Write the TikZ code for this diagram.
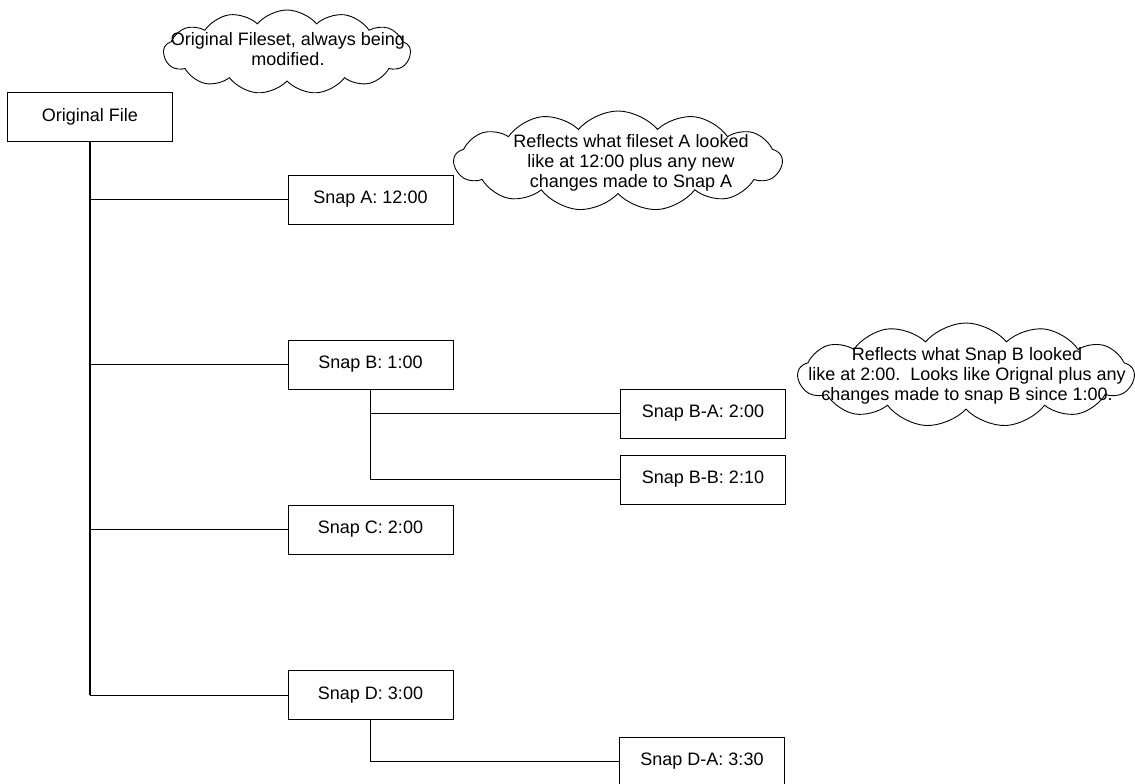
\documentclass[tikz,border=0pt]{standalone}
\usepackage{fontspec}
\setmainfont{Liberation Sans}
\usetikzlibrary{shapes.symbols}
\begin{document}
\begin{tikzpicture}[x=1pt,y=-1pt,
  lbl/.style={font=\fontsize{18}{20}\selectfont, align=center, inner sep=0pt},
  snapbox/.style={draw, line width=1pt, minimum width=165pt, minimum height=49pt,
    inner sep=0pt, font=\fontsize{18}{20}\selectfont},
  trunk/.style={line width=1.6pt},
  branch/.style={line width=0.9pt},
  puff/.style={draw, cloud, cloud puffs=13, cloud puff arc=100, line width=0.9pt,
    inner sep=0pt}]
\useasboundingbox (0,0) rectangle (1135,784);

% file boxes
\node[snapbox] (orig)   at (90,116.5)  {Original File};
\node[snapbox] (snapA)  at (370.5,199.5) {Snap A: 12:00};
\node[snapbox] (snapB)  at (370.5,364.5) {Snap B: 1:00};
\node[snapbox] (snapC)  at (370.5,529.5) {Snap C: 2:00};
\node[snapbox] (snapD)  at (370.5,695)   {Snap D: 3:00};
\node[snapbox] (snapBA) at (703,413.5)   {Snap B-A: 2:00};
\node[snapbox] (snapBB) at (703,479.5)   {Snap B-B: 2:10};
\node[snapbox] (snapDA) at (702,761.5)   {Snap D-A: 3:30};

% tree connectors
\draw[trunk] (orig.south) -- (orig.south |- snapD.west);
\draw[branch] (orig.south |- snapA.west) -- (snapA.west);
\draw[branch] (orig.south |- snapB.west) -- (snapB.west);
\draw[branch] (orig.south |- snapC.west) -- (snapC.west);
\draw[branch] (orig.south |- snapD.west) -- (snapD.west);
\draw[trunk] (snapB.south) -- (snapB.south |- snapBB.west);
\draw[branch] (snapB.south |- snapBA.west) -- (snapBA.west);
\draw[branch] (snapB.south |- snapBB.west) -- (snapBB.west);
\draw[trunk] (snapD.south) |- (snapDA.west);

% comment clouds
\node[puff, minimum width=247pt, minimum height=84pt] (cloudO) at (287,52) {};
\node[lbl] (noteO) at (288,49) {Original Fileset, always being\\modified.};

\node[puff, minimum width=328pt, minimum height=100pt] (cloudA) at (618,161) {};
\node[lbl] (noteA) at (631,163) {Reflects what fileset A looked\\like at 12:00 plus any new\\changes made to Snap A};

\node[puff, minimum width=336pt, minimum height=104pt] (cloudB) at (966,375) {};
\node[lbl] (noteB) at (967,376) {Reflects what Snap B looked\\like at 2:00.\ \ Looks like Orignal plus any\\changes made to snap B since 1:00.};
\end{tikzpicture}
\end{document}
